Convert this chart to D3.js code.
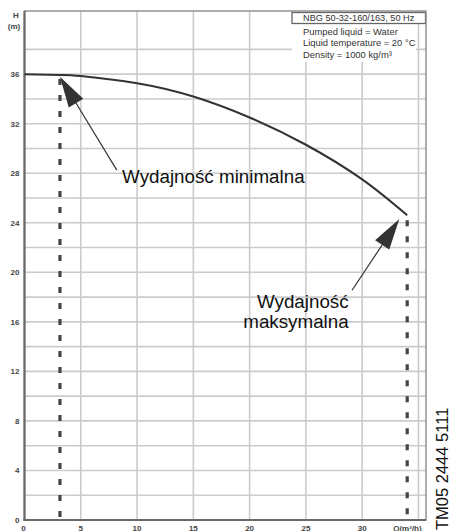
<!DOCTYPE html>
<html><head><meta charset="utf-8">
<script src="https://cdn.jsdelivr.net/npm/d3@7"></script>
<style>body{margin:0;background:#fff}svg{display:block}text{font-family:"Liberation Sans",Arial,sans-serif}</style>
</head><body><svg id="c" width="450" height="531"></svg>
<script>
// Data
const curveQ = [0, 3.2, 5, 10, 15, 20, 25, 30, 34];
const curveH = [36.0, 35.94, 35.85, 35.27, 34.19, 32.5, 30.3, 27.5, 24.6];
const xTicks = [0, 5, 10, 15, 20, 25, 30];
const yTicks = [0, 4, 8, 12, 16, 20, 24, 28, 32, 36];
const yGrid = d3.range(2, 39, 2);
const xGrid = [5, 10, 15, 20, 25, 30, 35];
const dutyQ = [3.15, 34.0];          // min / max flow dashed markers
const dutyTopH = [35.6, 24.2];
const legendLines = ["Pumped liquid = Water", "Liquid temperature = 20 °C", "Density = 1000 kg/m³"];
const legendTitle = "NBG 50-32-160/163, 50 Hz";

const svg = d3.select("#c");
const x = d3.scaleLinear().domain([0, 35.67]).range([24.5, 426]);
const y = d3.scaleLinear().domain([0, 41.1]).range([520, 11]);

// grid
svg.append("g").selectAll("line").data(yGrid).join("line")
  .attr("x1", x(0)).attr("x2", x(35.67)).attr("y1", d => y(d)).attr("y2", d => y(d))
  .attr("stroke", "#cbcbcb").attr("stroke-width", 1.6);
svg.append("g").selectAll("line").data(xGrid).join("line")
  .attr("y1", y(0)).attr("y2", y(41.1)).attr("x1", d => x(d)).attr("x2", d => x(d))
  .attr("stroke", "#cbcbcb").attr("stroke-width", 1.6);

// legend background + box
svg.append("rect").attr("x", 292).attr("y", 23).attr("width", 124).attr("height", 39).attr("fill", "#fff");
svg.append("rect").attr("x", 292).attr("y", 12.5).attr("width", 133.5).attr("height", 11)
  .attr("fill", "#fff").attr("stroke", "#666").attr("stroke-width", 1.3);
svg.append("text").attr("x", 303).attr("y", 21).attr("font-size", 9.2).attr("fill", "#333").text(legendTitle);
svg.append("g").selectAll("text").data(legendLines).join("text")
  .attr("x", 303).attr("y", (d, i) => 35 + i * 11.3).attr("font-size", 9.4).attr("fill", "#333").text(d => d);

// frame
svg.append("rect").attr("x", x(0)).attr("y", y(41.1)).attr("width", x(35.67) - x(0)).attr("height", y(0) - y(41.1))
  .attr("fill", "none").attr("stroke", "#8a8a8a").attr("stroke-width", 1.4);
svg.append("line").attr("x1", x(0)).attr("x2", x(0)).attr("y1", y(41.1)).attr("y2", y(0) + 1).attr("stroke", "#6a6a6a").attr("stroke-width", 2.2);
svg.append("line").attr("x1", x(0) - 1).attr("x2", x(35.67)).attr("y1", y(0)).attr("y2", y(0)).attr("stroke", "#6a6a6a").attr("stroke-width", 2.2);

// tick labels
svg.append("g").selectAll("text").data(yTicks).join("text")
  .attr("x", 19.5).attr("y", d => y(d) + 3).attr("text-anchor", "end")
  .attr("font-size", 8).attr("font-weight", "bold").attr("fill", "#444").text(d => d);
svg.append("g").selectAll("text").data(xTicks).join("text")
  .attr("x", d => x(d) + (d === 0 ? -1 : 0)).attr("y", 530.5).attr("text-anchor", "middle")
  .attr("font-size", 8).attr("font-weight", "bold").attr("fill", "#444").text(d => d);
svg.append("text").attr("x", x(35)-11).attr("y", 530.5).attr("text-anchor", "middle")
  .attr("font-size", 8).attr("font-weight", "bold").attr("fill", "#444").text("Q(m³/h)");
svg.append("text").attr("x", 16).attr("y", 18).attr("text-anchor", "middle")
  .attr("font-size", 8).attr("font-weight", "bold").attr("fill", "#444").text("H");
svg.append("text").attr("x", 14).attr("y", 29).attr("text-anchor", "middle")
  .attr("font-size", 8).attr("font-weight", "bold").attr("fill", "#444").text("(m)");

// dashed markers
svg.append("g").selectAll("line").data(dutyQ).join("line")
  .attr("x1", d => x(d)).attr("x2", d => x(d))
  .attr("y1", (d, i) => y(dutyTopH[i])).attr("y2", y(0))
  .attr("stroke", "#444").attr("stroke-width", 3.2).attr("stroke-dasharray", "6,10");

// curve
const pts = curveQ.map((q, i) => [q, curveH[i]]);
svg.append("path").datum(pts)
  .attr("d", d3.line().x(d => x(d[0])).y(d => y(d[1])).curve(d3.curveNatural))
  .attr("fill", "none").attr("stroke", "#333").attr("stroke-width", 2);

// arrows
const arrows = [
  {tip: [3.15, 35.8], tail: [8.2, 28.25]},
  {tip: [33.3, 24.3], tail: [29.1, 18.55]}
];
arrows.forEach(a => {
  const tx = x(a.tip[0]), ty = y(a.tip[1]), sx = x(a.tail[0]), sy = y(a.tail[1]);
  const dx = sx - tx, dy = sy - ty, L = Math.hypot(dx, dy);
  const ux = dx / L, uy = dy / L, px = -uy, py = ux;
  const hl = 31, hw = 8.5;
  svg.append("line").attr("x1", tx + ux * 20).attr("y1", ty + uy * 20).attr("x2", sx).attr("y2", sy)
    .attr("stroke", "#333").attr("stroke-width", 1.2);
  const bx = tx + ux * hl, by = ty + uy * hl;
  svg.append("path").attr("d", `M${tx},${ty}L${bx + px * hw},${by + py * hw}L${bx - px * hw},${by - py * hw}Z`)
    .attr("fill", "#333");
});

// annotations
svg.append("text").attr("x", x(8.67)).attr("y", y(27.2)).attr("font-size", 18.8).attr("fill", "#111").text("Wydajność minimalna");
svg.append("text").attr("x", x(28.8)).attr("y", y(17.09)).attr("text-anchor", "end").attr("font-size", 18.8).attr("fill", "#111").text("Wydajność");
svg.append("text").attr("x", x(28.8)).attr("y", y(15.52)).attr("text-anchor", "end").attr("font-size", 18.8).attr("fill", "#111").text("maksymalna");

// figure code
svg.append("text").attr("transform", "translate(448,530) rotate(-90)").attr("font-size", 16.5).attr("fill", "#111").text("TM05 2444 5111");
</script></body></html>
